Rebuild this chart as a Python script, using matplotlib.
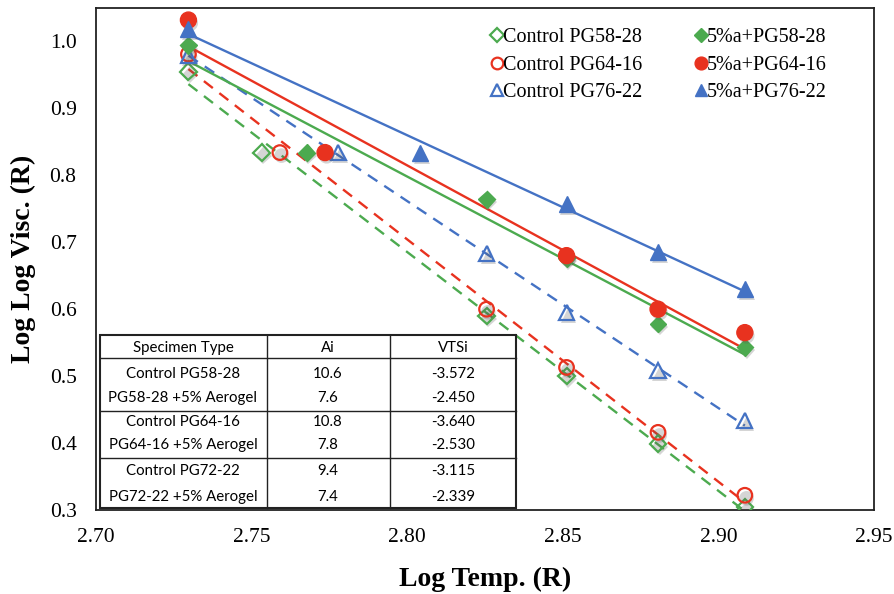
import numpy as np
import matplotlib
matplotlib.use("Agg")
import matplotlib.pyplot as plt
import matplotlib.patheffects as pe
from matplotlib.lines import Line2D

# ---------------- data ----------------
labels = ["Control PG58-28", "Control PG64-16", "Control PG76-22",
          "5%a+PG58-28", "5%a+PG64-16", "5%a+PG76-22"]

x_c5828 = [2.7297, 2.7532, 2.8255, 2.8512, 2.8806, 2.9085]
y_c5828 = [0.955, 0.834, 0.590, 0.500, 0.399, 0.304]
x_c6416 = [2.7297, 2.7591, 2.8255, 2.8512, 2.8806, 2.9085]
y_c6416 = [0.981, 0.834, 0.600, 0.513, 0.416, 0.322]
x_c7622 = [2.7297, 2.7779, 2.8255, 2.8512, 2.8806, 2.9085]
y_c7622 = [0.979, 0.834, 0.683, 0.595, 0.508, 0.434]

x_a5828 = [2.7297, 2.7677, 2.8255, 2.8512, 2.8806, 2.9085]
y_a5828 = [0.994, 0.834, 0.764, 0.676, 0.578, 0.543]
x_a6416 = [2.7297, 2.7736, 2.8512, 2.8806, 2.9085]
y_a6416 = [1.032, 0.834, 0.680, 0.600, 0.565]
x_a7622 = [2.7297, 2.8041, 2.8512, 2.8806, 2.9085]
y_a7622 = [1.019, 0.834, 0.757, 0.685, 0.630]

table_header = ["Specimen Type", "Ai", "VTSi"]
table_specimen = ["Control PG58-28", "PG58-28 +5% Aerogel", "Control PG64-16",
                  "PG64-16 +5% Aerogel", "Control PG72-22", "PG72-22 +5% Aerogel"]
table_ai = ["10.6", "7.6", "10.8", "7.8", "9.4", "7.4"]
table_vts = ["-3.572", "-2.450", "-3.640", "-2.530", "-3.115", "-2.339"]

x_ticks = [2.70, 2.75, 2.80, 2.85, 2.90, 2.95]
y_ticks = [0.3, 0.4, 0.5, 0.6, 0.7, 0.8, 0.9, 1.0]

# ---------------- style ----------------
GREEN = "#4caa4f"
RED = "#e8321f"
BLUE = "#4472c4"

serif = ["Liberation Serif", "DejaVu Serif"]
plt.rcParams["font.family"] = serif

fig = plt.figure(figsize=(8.95, 5.94), dpi=100)
ax = fig.add_axes([96 / 895, 1 - 510 / 594, 778 / 895, 502 / 594])
ax.set_xlim(2.70, 2.95)
ax.set_ylim(0.30, 1.05)

shadow = [pe.SimplePatchShadow(offset=(1.2, -2.2), shadow_rgbFace="0.35", alpha=0.25), pe.Normal()]

series = [
    (x_c5828, y_c5828, GREEN, "D", False, "--", 8.5),
    (x_c6416, y_c6416, RED, "o", False, "--", 10.5),
    (x_c7622, y_c7622, BLUE, "^", False, "--", 11.0),
    (x_a5828, y_a5828, GREEN, "D", True, "-", 8.5),
    (x_a6416, y_a6416, RED, "o", True, "-", 11.5),
    (x_a7622, y_a7622, BLUE, "^", True, "-", 11.5),
]

handles = []
for (xs, ys, col, mk, filled, ls, ms), lab in zip(series, labels):
    xs = np.asarray(xs); ys = np.asarray(ys)
    # linear trend line (Excel style)
    k, b = np.polyfit(xs, ys, 1)
    xl = np.array([xs.min(), xs.max()])
    if ls == "--":
        ax.plot(xl, k * xl + b, color=col, lw=1.7, ls=(0, (4.8, 3.5)), zorder=2)
    else:
        ax.plot(xl, k * xl + b, color=col, lw=1.7, ls="-", zorder=2)

for (xs, ys, col, mk, filled, ls, ms), lab in zip(series, labels):
    fc = col if filled else "none"
    ln, = ax.plot(xs, ys, ls="none", marker=mk, ms=ms, mfc=fc, mec=col,
                  mew=1.0 if filled else 1.6, zorder=4 if filled else 3,
                  path_effects=shadow)
    handles.append(Line2D([], [], ls="none", marker=mk, ms=ms * 0.8, mfc=fc, mec=col,
                          mew=1.0 if filled else 1.6))

ax.set_xticks(x_ticks)
ax.set_xticklabels([f"{v:.2f}" for v in x_ticks])
ax.set_yticks(y_ticks)
ax.set_yticklabels([f"{v:.1f}" for v in y_ticks])
ax.tick_params(axis="both", length=0, labelsize=15.5)
ax.tick_params(axis="y", pad=14)
ax.tick_params(axis="x", pad=13)
for s in ax.spines.values():
    s.set_linewidth(1.3)
    s.set_color("#222222")

ax.set_xlabel("Log Temp. (R)", fontsize=20, fontweight="bold", labelpad=14)
ax.set_ylabel("Log Log Visc. (R)", fontsize=20, fontweight="bold", labelpad=10)

leg = ax.legend(handles, labels, ncol=2, loc="upper left", bbox_to_anchor=(0.508, 0.96),
                frameon=False, fontsize=14.5, handlelength=0.6, handletextpad=0.0,
                columnspacing=2.6, labelspacing=0.42, borderaxespad=0, borderpad=0)

# ---------------- table ----------------
def fx(px):
    return (px - 96) / 778

def fy(py):
    return (510 - py) / 502

tl, tr, tt, tb = 100, 515.7, 335, 507.7
ax.add_patch(plt.Rectangle((fx(tl), fy(tb)), fx(tr) - fx(tl), fy(tt) - fy(tb),
                           transform=ax.transAxes, facecolor="white", edgecolor="#222222",
                           lw=1.5, zorder=6))
for vx in [266.7, 390]:
    ax.plot([fx(vx), fx(vx)], [fy(tt), fy(tb)], transform=ax.transAxes,
            color="#222222", lw=1.0, zorder=7)
for hy in [358, 411, 457.7]:
    ax.plot([fx(tl), fx(tr)], [fy(hy), fy(hy)], transform=ax.transAxes,
            color="#222222", lw=1.0, zorder=7)

tfont = dict(family=["Lato", "DejaVu Sans"], fontsize=10.8, ha="center", va="center",
             transform=ax.transAxes, zorder=8)
col_cx = [183, 328, 453]
row_cy = [348, 374, 398, 422, 445, 471, 497]
for j, h in enumerate(table_header):
    ax.text(fx(col_cx[j]), fy(row_cy[0]), h, **tfont)
for i in range(len(table_specimen)):
    ax.text(fx(col_cx[0]), fy(row_cy[i + 1]), table_specimen[i], **tfont)
    ax.text(fx(col_cx[1]), fy(row_cy[i + 1]), table_ai[i], **tfont)
    ax.text(fx(col_cx[2]), fy(row_cy[i + 1]), table_vts[i], **tfont)

fig.savefig("out.png", dpi=100)
